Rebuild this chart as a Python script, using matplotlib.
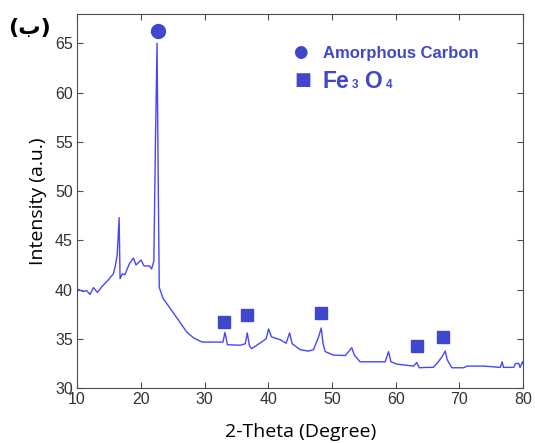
import matplotlib
matplotlib.use("Agg")
import matplotlib.pyplot as plt

# XRD pattern (2-theta, intensity)
two_theta = [10.0, 10.2, 11.0, 11.5, 12.04, 12.57, 13.2, 13.9, 14.8, 15.7, 15.97, 16.3,
             16.6, 16.75, 17.1, 17.5, 18.2, 18.85, 19.26, 20.05, 20.5, 21.35, 21.7, 22.05,
             22.3, 22.55, 22.75, 22.9, 23.5, 24.6, 25.9, 27.2, 28.26, 29.6, 32.9, 33.2,
             33.6, 35.6, 36.4, 36.7, 37.05, 37.4, 39.0, 39.67, 40.05, 40.5, 41.9, 42.8,
             43.35, 43.75, 45.0, 46.3, 47.1, 47.9, 48.3, 48.6, 48.93, 50.25, 52.1, 53.1,
             53.5, 54.4, 58.35, 58.87, 59.25, 60.2, 62.8, 63.3, 63.7, 64.9, 65.9, 66.56,
             67.25, 67.77, 68.1, 68.8, 70.6, 71.2, 73.8, 76.4, 76.7, 76.9, 78.5, 78.8,
             79.3, 79.5, 79.9, 80.0]
intensity = [40.1, 40.0, 39.8, 39.9, 39.5, 40.2, 39.7, 40.3, 40.9, 41.6, 42.3, 43.5,
             47.3, 41.1, 41.6, 41.5, 42.6, 43.2, 42.5, 43.0, 42.4, 42.4, 42.1, 42.9,
             55.0, 65.0, 50.0, 40.2, 39.1, 38.1, 36.9, 35.7, 35.1, 34.67, 34.67, 35.65,
             34.4, 34.35, 34.5, 35.6, 34.3, 34.0, 34.7, 35.0, 36.0, 35.2, 34.9, 34.55,
             35.6, 34.5, 33.9, 33.75, 33.9, 35.2, 36.1, 34.5, 33.7, 33.35, 33.3, 34.1,
             33.35, 32.67, 32.67, 33.7, 32.67, 32.43, 32.23, 32.6, 32.06, 32.1, 32.1, 32.57,
             33.17, 33.75, 32.84, 32.06, 32.06, 32.23, 32.23, 32.1, 32.67, 32.1, 32.1, 32.5,
             32.5, 32.1, 32.67, 32.5]

# phase markers
carbon_x = [22.7]
carbon_y = [66.2]
fe3o4_x = [33.1, 36.7, 48.35, 63.3, 67.4]
fe3o4_y = [36.7, 37.4, 37.65, 34.25, 35.2]

xticks = [10, 20, 30, 40, 50, 60, 70, 80]
yticks = [30, 35, 40, 45, 50, 55, 60, 65]

line_c = "#4646ff"
mark_c = "#3f48cc"
ax_c = "#4d4d4d"

fig = plt.figure(figsize=(5.35, 4.43), dpi=100)
ax = fig.add_axes([0.144, 0.124, 0.834, 0.845])

ax.plot(two_theta, intensity, color=line_c, lw=1.0)
ax.plot(carbon_x, carbon_y, "o", color=mark_c, ms=10, mec=mark_c)
ax.plot(fe3o4_x, fe3o4_y, "s", color=mark_c, ms=9, mec=mark_c)

ax.set_xlim(10, 80)
ax.set_ylim(30, 68)
ax.set_xticks(xticks)
ax.set_yticks(yticks)
ax.tick_params(direction="in", length=4, width=0.8, colors=ax_c,
               top=True, right=True, labelsize=11.5, labelcolor="#333333", pad=3)
for lab in ax.get_xticklabels() + ax.get_yticklabels():
    lab.set_fontfamily("Liberation Sans")
for s in ax.spines.values():
    s.set_color(ax_c)
    s.set_linewidth(0.8)

ax.set_xlabel("2-Theta (Degree)", fontsize=14, family="Open Sans", labelpad=11)
ax.set_ylabel("Intensity (a.u.)", fontsize=14, family="Open Sans", labelpad=6)

# legend drawn as markers + text
fig.text(300.5 / 535, 1 - 52 / 443, "\u25CF", color=mark_c, fontsize=12,
         ha="center", va="center", family="DejaVu Sans")
fig.text(302.5 / 535, 1 - 80 / 443, "\u25A0", color=mark_c, fontsize=13,
         ha="center", va="center", family="DejaVu Sans")
fig.text(323 / 535, 1 - 58 / 443, "Amorphous Carbon", color=mark_c, fontsize=12,
         fontweight="bold", family="Liberation Sans", ha="left", va="baseline")
fig.text(323 / 535, 1 - 88 / 443, "Fe", color=mark_c, fontsize=16.5,
         fontweight="bold", family="Liberation Sans", ha="left", va="baseline")
fig.text(352 / 535, 1 - 88 / 443, "3", color=mark_c, fontsize=8.5,
         fontweight="bold", family="Liberation Sans", ha="left", va="baseline")
fig.text(364 / 535, 1 - 88 / 443, "O", color=mark_c, fontsize=16.5,
         fontweight="bold", family="Liberation Sans", ha="left", va="baseline")
fig.text(386 / 535, 1 - 88 / 443, "4", color=mark_c, fontsize=8.5,
         fontweight="bold", family="Liberation Sans", ha="left", va="baseline")

fig.text(30 / 535, 1 - 28 / 443, "(\u0628)", color="black", fontsize=16,
         fontweight="bold", family="DejaVu Sans", ha="center", va="center")

fig.savefig("out.png", dpi=100)
